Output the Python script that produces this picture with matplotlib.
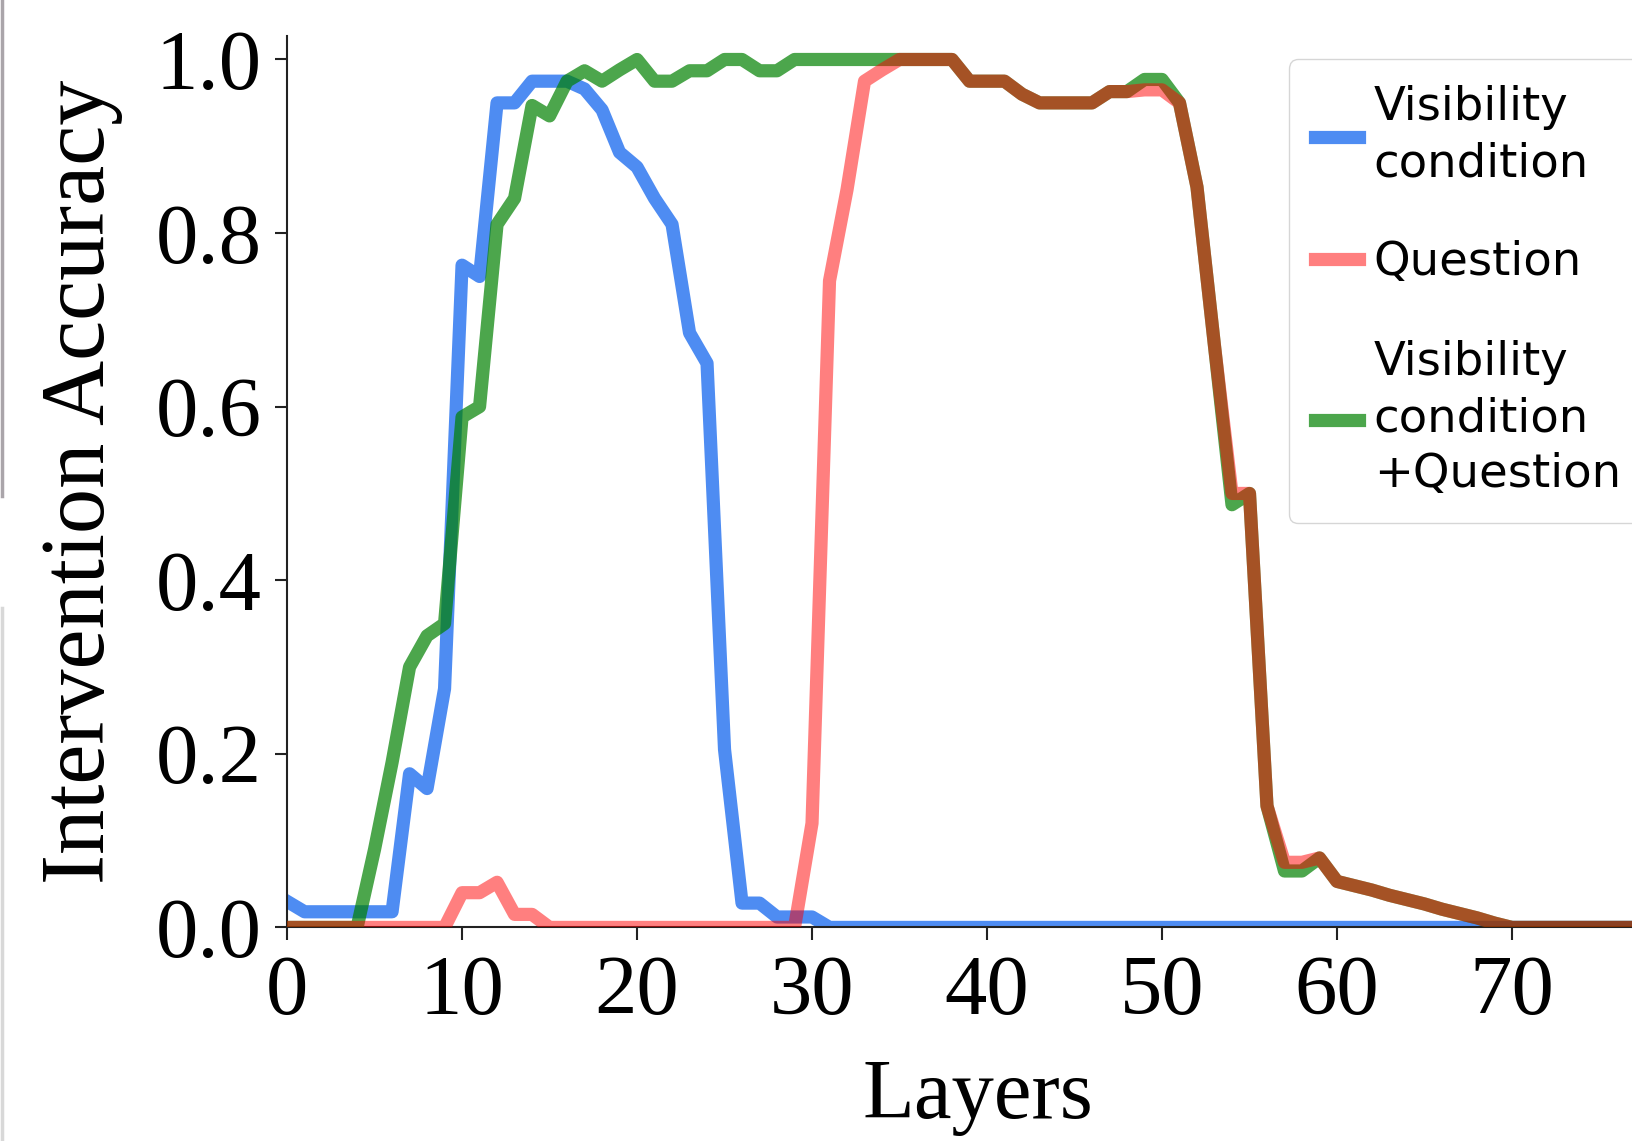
#!/usr/bin/env python3
# Intervention accuracy per layer for three patching conditions.

import matplotlib
matplotlib.use("Agg")
import matplotlib.pyplot as plt
from matplotlib.lines import Line2D

# ── Data (layers 0..79) ──
layers = list(range(80))

vis_cond = [
    0.03, 0.018, 0.018, 0.018, 0.018, 0.018, 0.018, 0.177, 0.16, 0.275,
    0.763, 0.75, 0.95, 0.95, 0.975, 0.975, 0.975, 0.966, 0.942, 0.893,
    0.876, 0.84, 0.81, 0.685, 0.65, 0.205, 0.028, 0.028, 0.012, 0.012,
    0.012, 0.0, 0.0, 0.0, 0.0, 0.0, 0.0, 0.0, 0.0, 0.0,
    0.0, 0.0, 0.0, 0.0, 0.0, 0.0, 0.0, 0.0, 0.0, 0.0,
    0.0, 0.0, 0.0, 0.0, 0.0, 0.0, 0.0, 0.0, 0.0, 0.0,
    0.0, 0.0, 0.0, 0.0, 0.0, 0.0, 0.0, 0.0, 0.0, 0.0,
    0.0, 0.0, 0.0, 0.0, 0.0, 0.0, 0.0, 0.0, 0.0, 0.0,
]

question = [
    0.0, 0.0, 0.0, 0.0, 0.0, 0.0, 0.0, 0.0, 0.0, 0.0,
    0.04, 0.04, 0.052, 0.015, 0.015, 0.0, 0.0, 0.0, 0.0, 0.0,
    0.0, 0.0, 0.0, 0.0, 0.0, 0.0, 0.0, 0.0, 0.0, 0.0,
    0.12, 0.745, 0.85, 0.975, 0.988, 1.0, 1.0, 1.0, 1.0, 0.975,
    0.975, 0.975, 0.96, 0.95, 0.95, 0.95, 0.95, 0.963, 0.963, 0.965,
    0.965, 0.95, 0.853, 0.67, 0.50, 0.50, 0.14, 0.075, 0.075, 0.08,
    0.053, 0.048, 0.043, 0.037, 0.032, 0.027, 0.021, 0.016, 0.011, 0.005,
    0.0, 0.0, 0.0, 0.0, 0.0, 0.0, 0.0, 0.0, 0.0, 0.0,
]

vis_cond_question = [
    0.0, 0.0, 0.0, 0.0, 0.0, 0.09, 0.19, 0.30, 0.336, 0.35,
    0.588, 0.60, 0.81, 0.84, 0.947, 0.935, 0.975, 0.987, 0.975, 0.988,
    1.0, 0.975, 0.975, 0.987, 0.987, 1.0, 1.0, 0.987, 0.987, 1.0,
    1.0, 1.0, 1.0, 1.0, 1.0, 1.0, 1.0, 1.0, 1.0, 0.975,
    0.975, 0.975, 0.96, 0.95, 0.95, 0.95, 0.95, 0.963, 0.963, 0.977,
    0.977, 0.95, 0.853, 0.67, 0.487, 0.50, 0.14, 0.065, 0.065, 0.08,
    0.053, 0.048, 0.043, 0.037, 0.032, 0.027, 0.021, 0.016, 0.011, 0.005,
    0.0, 0.0, 0.0, 0.0, 0.0, 0.0, 0.0, 0.0, 0.0, 0.0,
]

labels = ["Visibility\ncondition", "Question", "Visibility\ncondition\n+Question"]
x_ticks = [0, 10, 20, 30, 40, 50, 60, 70]
y_ticks = [0.0, 0.2, 0.4, 0.6, 0.8, 1.0]

SERIF = ["Liberation Serif", "DejaVu Serif"]
LW = 9.5

fig = plt.figure(figsize=(16.32, 11.41), dpi=100)
ax = fig.add_axes([0.1759, 0.1872, 0.8241, 0.7812])

# blue first, green on top of it, red (semi-transparent) on top of green
l_vis, = ax.plot(layers, vis_cond, color="#4e8cf2", lw=LW, zorder=2)
l_vq, = ax.plot(layers, vis_cond_question, color="#008000", alpha=0.7, lw=LW, zorder=3)
l_q, = ax.plot(layers, question, color="#ff0000", alpha=0.5, lw=LW, zorder=4)

ax.set_xlim(0, 76.86)
ax.set_ylim(0, 1.027)
ax.set_xticks(x_ticks)
ax.set_yticks(y_ticks)
ax.set_yticklabels([f"{v:.1f}" for v in y_ticks])

for lab in ax.get_xticklabels() + ax.get_yticklabels():
    lab.set_fontfamily(SERIF)
    lab.set_fontsize(61)

ax.tick_params(axis="both", length=9, width=1.5, color="#222222")
ax.tick_params(axis="x", pad=11)
ax.tick_params(axis="y", pad=9)

for side in ("top", "right"):
    ax.spines[side].set_visible(False)
for side in ("left", "bottom"):
    ax.spines[side].set_linewidth(1.5)
    ax.spines[side].set_color("#222222")

ax.set_xlabel("Layers", fontfamily=SERIF, fontsize=61)
ax.set_ylabel("Intervention Accuracy", fontfamily=SERIF, fontsize=65)
ax.xaxis.set_label_coords(0.514, -0.148)
ax.yaxis.set_label_coords(-0.122, 0.5)

leg = ax.legend(
    [l_vis, l_q, l_vq], labels,
    loc="upper left", bbox_to_anchor=(0.745, 0.974), borderaxespad=0,
    prop={"family": "DejaVu Sans", "size": 33.5},
    handlelength=0.95, handletextpad=0.32, labelspacing=1.17,
    borderpad=0.55, frameon=True,
)
for h in leg.get_lines():
    h.set_linewidth(LW)
for t in leg.get_texts():
    t.set_linespacing(1.32)

# grey edge left over from the neighbouring panel
fig.add_artist(Line2D([0.001, 0.001], [1.0, 0.565], transform=fig.transFigure,
                      color="#aaa5aa", lw=2.5))
fig.add_artist(Line2D([0.001, 0.001], [0.467, 0.0], transform=fig.transFigure,
                      color="#d8d8d8", lw=2.5))

fig.savefig("out.png", dpi=100)
